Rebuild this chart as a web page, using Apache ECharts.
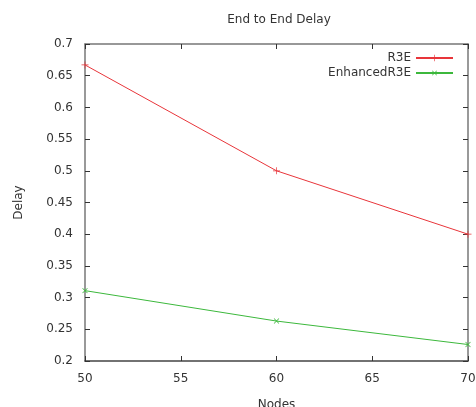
<!DOCTYPE html>
<html>
<head>
<meta charset="utf-8">
<script src="https://cdn.jsdelivr.net/npm/echarts@6/dist/echarts.min.js"></script>
<style>
  html, body { margin: 0; padding: 0; background: #fff; }
  #chart { width: 476px; height: 407px; }
</style>
</head>
<body>
<div id="chart"></div>
<script>
const nodes = [50, 60, 70]
const r3e = [0.667, 0.5, 0.4]
const enhancedR3e = [0.311, 0.263, 0.226]

const plus = 'path://M0,4.5H10V5.5H0Z M4.5,0H5.5V10H4.5Z'
const font = 'DejaVu Sans'

const chart = echarts.init(document.getElementById('chart'))

const axisCommon = {
  axisLine: { show: true, lineStyle: { color: '#777', width: 1.5 } },
  axisTick: { show: true, inside: true, length: 5, lineStyle: { color: '#333' } },
  splitLine: { show: false }
}

chart.setOption({
  animation: false,
  textStyle: { fontFamily: font },
  title: {
    text: 'End to End Delay',
    left: 274,
    top: 9,
    textAlign: 'center',
    textStyle: { fontFamily: font, fontSize: 12, fontWeight: 'normal', color: '#333' }
  },
  legend: {
    orient: 'vertical',
    right: 17,
    top: 47,
    align: 'right',
    itemWidth: 37,
    itemHeight: 8,
    itemGap: 3,
    textStyle: { fontFamily: font, fontSize: 12, color: '#333' },
    data: ['R3E', 'EnhancedR3E']
  },
  grid: { left: 85, right: 8, top: 44, bottom: 46, outerBoundsMode: 'none', containLabel: false },
  xAxis: [
    {
      ...axisCommon,
      type: 'value',
      min: 50, max: 70, interval: 5,
      name: 'Nodes',
      nameLocation: 'middle',
      nameGap: 38,
      nameTextStyle: { fontFamily: font, fontSize: 12, color: '#333' },
      axisLine: { show: true, lineStyle: { color: '#444', width: 1.5 } },
      axisLabel: { fontFamily: font, fontSize: 12, color: '#333', margin: 12 }
    },
    {
      ...axisCommon,
      type: 'value',
      position: 'top',
      min: 50, max: 70, interval: 5,
      axisLabel: { show: false }
    }
  ],
  yAxis: [
    {
      ...axisCommon,
      type: 'value',
      min: 0.2, max: 0.7, interval: 0.05,
      name: 'Delay',
      nameLocation: 'middle',
      nameRotate: 90,
      nameGap: 60,
      nameTextStyle: { fontFamily: font, fontSize: 12, color: '#333' },
      axisLabel: {
        fontFamily: font, fontSize: 12, color: '#333', margin: 12,
        formatter: v => String(+v.toFixed(2))
      }
    },
    {
      ...axisCommon,
      type: 'value',
      position: 'right',
      min: 0.2, max: 0.7, interval: 0.05,
      axisLabel: { show: false }
    }
  ],
  series: [
    {
      name: 'R3E',
      type: 'line',
      data: nodes.map((n, i) => [n, r3e[i]]),
      symbol: plus,
      symbolSize: 7,
      showSymbol: true,
      lineStyle: { color: '#e8353a', width: 1 },
      itemStyle: { color: '#e8353a' }
    },
    {
      name: 'EnhancedR3E',
      type: 'line',
      data: nodes.map((n, i) => [n, enhancedR3e[i]]),
      symbol: plus,
      symbolSize: 7,
      symbolRotate: 45,
      showSymbol: true,
      lineStyle: { color: '#3cb83c', width: 1 },
      itemStyle: { color: '#3cb83c' }
    }
  ]
})
</script>
</body>
</html>
